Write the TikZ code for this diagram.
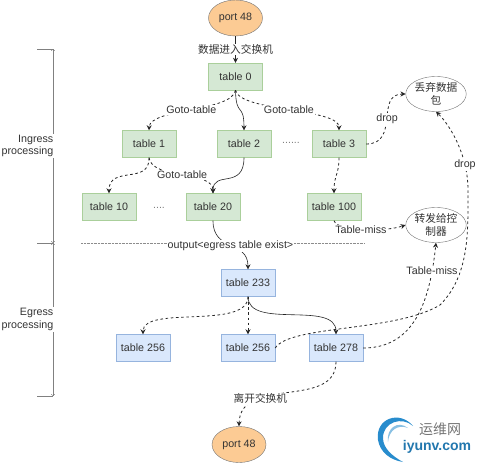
\documentclass[tikz,border=0pt]{standalone}
\usepackage{fontspec}
\setmainfont{Liberation Sans}
\newfontfamily\cjkfont{Noto Sans CJK SC}
\usetikzlibrary{arrows.meta, shapes.geometric, positioning, calc}
\definecolor{tablegreen}  {RGB}{213, 232, 212}
\definecolor{edgegreen}   {RGB}{170, 207, 155}
\definecolor{tableblue}   {RGB}{218, 232, 252}
\definecolor{edgeblue}    {RGB}{150, 180, 222}
\definecolor{portorange}  {RGB}{252, 203, 148}
\definecolor{swooshblue}  {RGB}{ 40, 140, 205}
\tikzset{
	every node/.style={font=\fontsize{10.7}{12.8}\selectfont, text=black!80},
	greentable/.style={draw=edgegreen,fill=tablegreen,minimum width=54pt,minimum height=27pt,inner sep=0pt},
	bluetable/.style={draw=edgeblue,fill=tableblue,minimum width=54pt,minimum height=27pt,inner sep=0pt},
	portnode/.style={ellipse,draw=black!55,fill=portorange,minimum width=54pt,minimum height=36pt,inner sep=0pt},
	sinknode/.style={ellipse,draw=black!55,fill=white,minimum width=54pt,minimum height=35pt,inner sep=0pt,align=center,font=\fontsize{10.7}{12.8}\cjkfont},
	flowlabel/.style={fill=white,inner sep=1pt},
	hopline/.style={draw=black!85,thick,dashed,dash pattern=on 2.6pt off 2.6pt,-{Stealth[length=5pt,width=5pt]}},
	mainline/.style={draw=black!85,semithick,-{Stealth[length=5pt,width=5pt]}},
	spanline/.style={draw=black!50,{To[length=2pt,width=4pt]}-{To[length=2pt,width=4pt]}}
}
\begin{document}
\begin{tikzpicture}[x=1pt,y=-1pt]
	\useasboundingbox (0,0) rectangle (480,463);
	% ingress and egress brackets
	\coordinate (spanA) at (53,49);
	\coordinate (spanB) at (53,243);
	\coordinate (spanC) at (53,396);
	\foreach \p in {spanA,spanB,spanC}{\draw[black!50] (\p) -- ++(-16,0);}
	\draw[spanline] (spanA) -- node[flowlabel,align=right,anchor=east,xshift=1.5pt,pos=0.5] (ingress) {Ingress\\processing} (spanB);
	\draw[spanline] (spanB) -- node[flowlabel,align=right,anchor=east,xshift=1.5pt,pos=0.5] (egress) {Egress\\processing} (spanC);
	% divider
	\coordinate (divL) at (81,243);
	\coordinate (divR) at (364,243);
	\draw[black!45,densely dotted] (divL) -- (divR);
	% tables
	\node[portnode] (portin) at (235.5,18) {port 48};
	\node[greentable] (t0) at (235.5,76.5) {table 0};
	\node[greentable] (t1) at (149,144) {table 1};
	\node[greentable] (t2) at (244,144) {table 2};
	\node[greentable] (t3) at (339,144) {table 3};
	\node[greentable] (t10) at (109,207) {table 10};
	\node[greentable] (t20) at (213,207) {table 20};
	\node[greentable] (t100) at (334,207) {table 100};
	\node[bluetable] (t233) at (248,283) {table 233};
	\node[bluetable] (t256a) at (143,348) {table 256};
	\node[bluetable] (t256b) at (248,348) {table 256};
	\node[bluetable] (t278) at (336,348) {table 278};
	\node[portnode] (portout) at (239,444.5) {port 48};
	\node[sinknode] (dropnode) at (436,94) {丢弃数据\\包};
	\node[sinknode] (ctrlnode) at (436,225) {转发给控\\制器};
	\node[text=black!50] (dotsA) at (291,143) {......};
	\node[text=black!50] (dotsB) at (159,208) {....};
	% connectors
	\draw[mainline] (portin) -- node[flowlabel,font=\fontsize{10.7}{12.8}\cjkfont] (inlabel) {数据进入交换机} (t0);
	\draw[hopline] (t0.south) .. controls (232,112) and (150,108) .. node[flowlabel,pos=0.5] (gotoA) {Goto-table} (t1.north);
	\draw[hopline] (t0.south) .. controls (240,112) and (339,108) .. node[flowlabel,pos=0.5] (gotoB) {Goto-table} (t3.north);
	\draw[mainline] (t0.south) .. controls (236,118) and (244,102) .. (t2.north);
	\draw[hopline] (t1.south) .. controls (150,185) and (109,165) .. (t10.north);
	\draw[hopline] (t1.south) .. controls (152,180) and (213,170) .. node[flowlabel,pos=0.5] (gotoC) {Goto-table} (t20.north);
	\draw[mainline] (t2.south) .. controls (244,190) and (213,170) .. (t20.north);
	\draw[hopline] (t3.east) .. controls (400,144) and (375,94) .. node[flowlabel,pos=0.5] (dropA) {drop} (dropnode.west);
	\draw[hopline] (t3.south) .. controls (339,175) and (334,175) .. (t100.north);
	\draw[hopline] (t100.south) .. controls (338,232) and (385,232) .. node[flowlabel,pos=0.47] (missA) {Table-miss} (ctrlnode.west);
	\draw[mainline] (t20.south) .. controls (213,252) and (248,240) .. node[flowlabel,pos=0.5] (outlabel) {output<egress table exist>} (t233.north);
	\draw[hopline] (t233.south) .. controls (248,330) and (143,305) .. (t256a.north);
	\draw[hopline] (t233.south) -- (t256b.north);
	\draw[mainline] (t233.south) .. controls (248,330) and (336,300) .. (t278.north);
	\draw[hopline] (t256b.east) .. controls (290,325) and (395,332) .. (440,305) .. controls (470,275) and (468,230) .. (468,190) .. controls (468,155) and (450,125) .. node[flowlabel,pos=0.25] (dropB) {drop} (dropnode.south);
	\draw[hopline] (t278.east) .. controls (415,348) and (430,300) .. node[flowlabel,pos=0.83] (missB) {Table-miss} (ctrlnode.south);
	\draw[hopline] (t278.south) .. controls (336,410) and (240,375) .. node[flowlabel,pos=0.7,font=\fontsize{10.7}{12.8}\cjkfont] (outtext) {离开交换机} (portout.north);
	% watermark
	\fill[swooshblue] (413,426) .. controls (400,410) and (375,418) .. (378,440) .. controls (380,452) and (390,460) .. (403,462) .. controls (392,456) and (383,448) .. (383,438) .. controls (383,422) and (402,416) .. cycle;
	\fill[swooshblue!55] (408,428) .. controls (398,420) and (386,428) .. (388,442) .. controls (389,430) and (398,424) .. cycle;
	\node[text=black!55,font=\fontsize{14}{16}\cjkfont] (markA) at (440,429) {运维网};
	\node[text=swooshblue!85!black,font=\fontsize{14}{16}\bfseries] (markB) at (437,447) {iyunv.com};
\end{tikzpicture}
\end{document}
